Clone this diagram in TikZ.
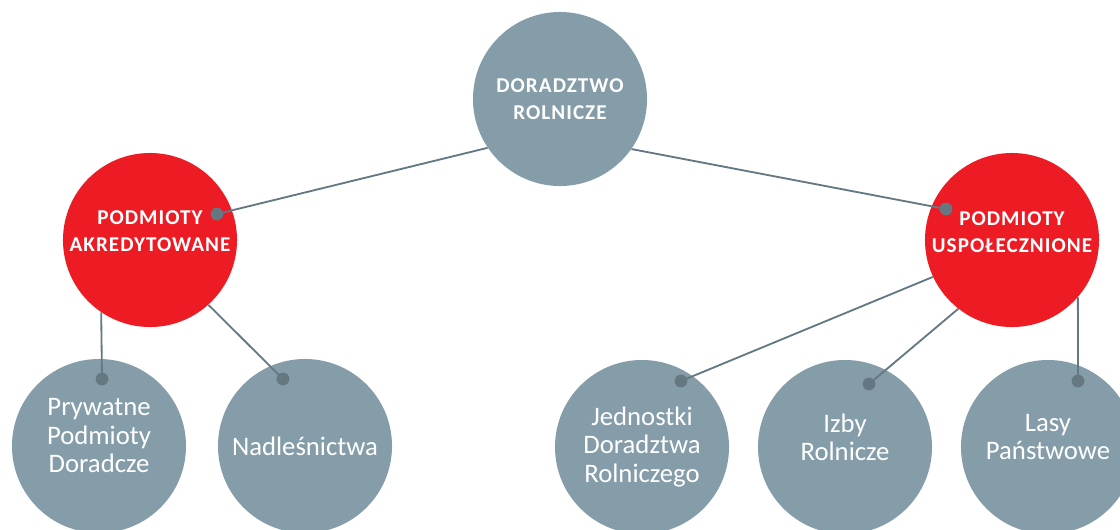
\documentclass[tikz,border=0pt]{standalone}
\usepackage{fontspec}
\setmainfont{Carlito}
\newfontfamily\hdfont[LetterSpace=5]{Carlito}
\definecolor{krag}{RGB}{133,157,169}
\definecolor{czerw}{RGB}{237,28,36}
\definecolor{linia}{RGB}{99,120,131}
\definecolor{kropka}{RGB}{101,119,128}

\begin{document}
\begin{tikzpicture}[x=0.025cm,y=-0.025cm,
  kr/.style={circle,fill=krag,text=white,minimum size=4.35cm,inner sep=0pt,align=center,
    font=\fontsize{19}{20}\selectfont},
  hd/.style={kr,font=\hdfont\bfseries\fontsize{15}{19}\selectfont},
  rd/.style={hd,fill=czerw},
  ln/.style={draw=linia,line width=1.3pt},
  dot/.style={fill=kropka}]
  \useasboundingbox (0,0) rectangle (1120,529);
  \clip (0,0) rectangle (1120,529);
  \fill[white] (0,0) rectangle (1120,529);
  \node[hd] (dr) at (560,99) {DORADZTWO\\ROLNICZE};
  \node[rd] (pa) at (150,240) {PODMIOTY\\AKREDYTOWANE\\[-6pt]};
  \node[rd] (pu) at (1012,240) {PODMIOTY\\USPOŁECZNIONE\\[-8pt]};
  \node[kr] (ppd) at (99,446) {Prywatne\\Podmioty\\Doradcze\\[-5pt]};
  \node[kr] (nad) at (305,446) {Nadleśnictwa};
  \node[kr] (jdr) at (642,447) {Jednostki\\Doradztwa\\Rolniczego};
  \node[kr] (ir) at (845,447) {Izby\\Rolnicze\\[-6pt]};
  \node[kr] (lp) at (1048,447) {Lasy\\Państwowe\\[-6pt]};
  % kropki na koncach linii
  \coordinate (a) at (217,214);
  \coordinate (b) at (946,209);
  \coordinate (c) at (102,379);
  \coordinate (d) at (283,379);
  \coordinate (e) at (681,381);
  \coordinate (f) at (869,384);
  \coordinate (g) at (1078,381);
  \draw[ln] (dr.214) -- (a);
  \draw[ln] (dr.325) -- (b);
  \draw[ln] (pa.236) -- (c);
  \draw[ln] (pa.312) -- (d);
  \draw[ln] (pu.205) -- (e);
  \draw[ln] (pu.232) -- (f);
  \draw[ln] (pu.319) -- (g);
  \foreach \p in {a,b,c,d,e,f,g}
    \fill[dot] (\p) circle (0.16cm);
\end{tikzpicture}
\end{document}
